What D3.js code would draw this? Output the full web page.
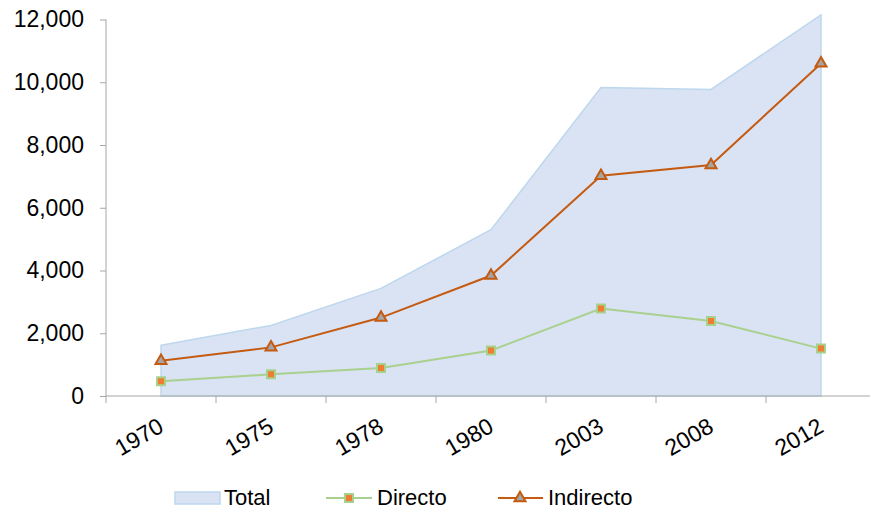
<!DOCTYPE html>
<html><head><meta charset="utf-8">
<script src="https://cdn.jsdelivr.net/npm/d3@7/dist/d3.min.js"></script>
<style>body{margin:0;background:#fff}svg{display:block}text{font-family:"Liberation Sans",Arial,sans-serif;fill:#000}</style>
</head><body><svg id="c" width="870" height="510"></svg>
<script>
const years = ["1970","1975","1978","1980","2003","2008","2012"];
const total = [1620,2250,3430,5300,9830,9770,12150];
const directo = [470,690,890,1450,2790,2390,1510];
const indirecto = [1120,1550,2500,3840,7020,7360,10600];
const yTicks = [0,2000,4000,6000,8000,10000,12000];

const svg = d3.select("#c");
const x = d3.scaleBand().domain(years).range([106,876]);
const y = d3.scaleLinear().domain([0,12000]).range([396,19.5]);
const cx = d => x(d) + x.bandwidth()/2;

// area
const area = d3.area().x((d,i)=>cx(years[i])).y0(y(0)).y1(d=>y(d));
svg.append("path").datum(total).attr("d",area).attr("fill","#DAE3F3").attr("stroke","#BDD7EE").attr("stroke-width",1.5);

// y axis
const ya = svg.append("g").attr("transform","translate(106,0)").call(d3.axisLeft(y).tickValues(yTicks).tickFormat(d3.format(",")).tickSize(6).tickPadding(16));
ya.select(".domain").attr("stroke","#A6A6A6").attr("d","M0,19.5V396");
ya.selectAll(".tick line").attr("stroke","#A6A6A6");
ya.selectAll("text").attr("font-size","23px").attr("font-family","Liberation Sans, Arial, sans-serif").attr("fill","#000");

// x axis
const xa = svg.append("g").attr("transform","translate(0,396)").call(d3.axisBottom(x).tickSize(0).tickFormat(""));
xa.select(".domain").attr("stroke","#A6A6A6").attr("d","M106,0H876");
xa.selectAll(".tick").remove();
const bounds = years.map(d=>x(d)).concat([876]);
xa.selectAll("line.tk").data(bounds).enter().append("line").attr("x1",d=>d).attr("x2",d=>d).attr("y1",0).attr("y2",7).attr("stroke","#A6A6A6");
xa.selectAll("text.lbl").data(years).enter().append("text")
  .attr("transform",d=>`translate(${cx(d)-4},${21}) rotate(-30)`)
  .attr("text-anchor","end").attr("font-size","23px").attr("dy","0.7em").text(d=>d);

// lines
const line = d3.line().x((d,i)=>cx(years[i])).y(d=>y(d));
svg.append("path").datum(directo).attr("d",line).attr("fill","none").attr("stroke","#A9D18E").attr("stroke-width",2);
svg.append("path").datum(indirecto).attr("d",line).attr("fill","none").attr("stroke","#C55A11").attr("stroke-width",2);

const sq = d3.symbol().type(d3.symbolSquare).size(64);
const tri = d3.symbol().type(d3.symbolTriangle).size(52);
svg.selectAll("path.dm").data(directo).enter().append("path").attr("d",sq)
  .attr("transform",(d,i)=>`translate(${cx(years[i])},${y(d)})`).attr("fill","#ED7D31").attr("stroke","#A9D18E").attr("stroke-width",2);
svg.selectAll("path.im").data(indirecto).enter().append("path").attr("d",tri)
  .attr("transform",(d,i)=>`translate(${cx(years[i])},${y(d)})`).attr("fill","#A5A5A5").attr("stroke","#C55A11").attr("stroke-width",2);

// legend
const lg = svg.append("g");
lg.append("rect").attr("x",175).attr("y",492).attr("width",45).attr("height",12).attr("fill","#DAE3F3").attr("stroke","#BDD7EE").attr("stroke-width",1.5);
lg.append("text").attr("x",224).attr("y",505).attr("font-size","22px").text("Total");
lg.append("line").attr("x1",326).attr("x2",372).attr("y1",498).attr("y2",498).attr("stroke","#A9D18E").attr("stroke-width",2);
lg.append("path").attr("d",sq).attr("transform","translate(349,498)").attr("fill","#ED7D31").attr("stroke","#A9D18E").attr("stroke-width",2);
lg.append("text").attr("x",377).attr("y",505).attr("font-size","22px").text("Directo");
lg.append("line").attr("x1",498).attr("x2",543).attr("y1",498).attr("y2",498).attr("stroke","#C55A11").attr("stroke-width",2);
lg.append("path").attr("d",tri).attr("transform","translate(520,498)").attr("fill","#A5A5A5").attr("stroke","#C55A11").attr("stroke-width",2);
lg.append("text").attr("x",548).attr("y",505).attr("font-size","22px").text("Indirecto");
</script></body></html>
